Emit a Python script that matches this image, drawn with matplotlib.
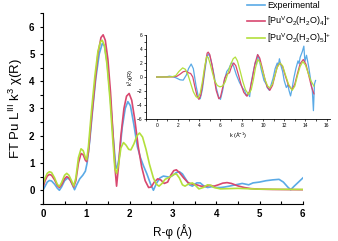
import matplotlib
matplotlib.use('Agg')
import matplotlib.pyplot as plt
from matplotlib.ticker import MultipleLocator

plt.rcParams['font.family'] = ['Liberation Sans', 'DejaVu Sans']
plt.rcParams['mathtext.default'] = 'regular'

c_exp = '#5aaae6'
c_o4 = '#d8476f'
c_o5 = '#b3df3c'

# --- main panel: FT magnitude vs R ---
r_exp = [0.0, 0.05, 0.1, 0.15, 0.2, 0.27, 0.33, 0.38, 0.43, 0.5, 0.57, 0.63, 0.68, 0.73, 0.78, 0.85,
         0.92, 0.98, 1.02, 1.08, 1.15, 1.22, 1.3, 1.37, 1.42, 1.48, 1.55, 1.62, 1.68, 1.71, 1.76,
         1.83, 1.9, 1.96, 2.02, 2.1, 2.18, 2.25, 2.32, 2.4, 2.48, 2.55, 2.62, 2.7, 2.78, 2.85, 2.92,
         3.0, 3.08, 3.15, 3.22, 3.3, 3.38, 3.45, 3.55, 3.63, 3.72, 3.8, 3.9, 4.0, 4.1, 4.2, 4.3,
         4.45, 4.6, 4.75, 4.85, 5.0, 5.15, 5.3, 5.45, 5.55, 5.65, 5.72, 5.8, 5.9, 6.0]
ft_exp = [0.0, 0.15, 0.3, 0.36, 0.34, 0.22, 0.08, 0.0, 0.12, 0.35, 0.45, 0.38, 0.2, 0.02, 0.2, 0.42,
          0.55, 0.7, 1.0, 1.8, 3.0, 4.1, 5.0, 5.38, 5.3, 4.7, 3.5, 2.0, 0.9, 0.8, 1.2,
          2.3, 3.0, 3.25, 3.1, 2.4, 1.6, 1.2, 0.9, 0.6, 0.25, 0.0, 0.25, 0.45, 0.52, 0.5, 0.48,
          0.55, 0.65, 0.68, 0.6, 0.4, 0.2, 0.15, 0.27, 0.27, 0.15, 0.1, 0.13, 0.1, 0.1, 0.12, 0.15,
          0.2, 0.25, 0.2, 0.27, 0.3, 0.35, 0.38, 0.4, 0.3, 0.12, 0.02, 0.15, 0.3, 0.45]

r_o4 = [0.0, 0.05, 0.1, 0.15, 0.2, 0.27, 0.33, 0.38, 0.43, 0.5, 0.55, 0.6, 0.66, 0.71, 0.76, 0.82,
        0.88, 0.93, 0.98, 1.01, 1.05, 1.12, 1.2, 1.27, 1.34, 1.39, 1.44, 1.5, 1.56, 1.62, 1.67,
        1.7, 1.74, 1.8, 1.87, 1.93, 1.99, 2.05, 2.12, 2.2, 2.28, 2.36, 2.44, 2.5, 2.57, 2.65, 2.72,
        2.8, 2.88, 2.95, 3.02, 3.08, 3.15, 3.25, 3.35, 3.45, 3.55, 3.65, 3.75, 3.85, 3.95, 4.05,
        4.15, 4.25, 4.35, 4.5, 4.65, 4.8, 5.0, 5.3, 6.0]
ft_o4 = [0.1, 0.35, 0.52, 0.58, 0.55, 0.38, 0.18, 0.1, 0.2, 0.42, 0.5, 0.45, 0.28, 0.12, 0.35, 1.0,
         1.35, 1.3, 1.1, 1.05, 1.4, 2.6, 3.9, 5.0, 5.6, 5.7, 5.5, 4.8, 3.6, 2.0, 0.7,
         0.15, 0.8, 2.0, 3.0, 3.45, 3.55, 3.3, 2.6, 1.6, 0.85, 0.35, 0.1, 0.12, 0.3, 0.42, 0.38,
         0.25, 0.3, 0.55, 0.72, 0.75, 0.65, 0.45, 0.28, 0.22, 0.2, 0.15, 0.14, 0.18, 0.15, 0.2,
         0.26, 0.28, 0.25, 0.16, 0.1, 0.06, 0.04, 0.03, 0.02]

r_o5 = [0.0, 0.05, 0.1, 0.15, 0.2, 0.27, 0.33, 0.38, 0.43, 0.5, 0.55, 0.6, 0.66, 0.71, 0.76, 0.82,
        0.88, 0.93, 0.98, 1.01, 1.05, 1.12, 1.2, 1.27, 1.33, 1.37, 1.42, 1.48, 1.55, 1.61, 1.66,
        1.7, 1.75, 1.8, 1.86, 1.92, 1.98, 2.03, 2.1, 2.17, 2.23, 2.3, 2.38, 2.46, 2.55, 2.62, 2.68,
        2.75, 2.82, 2.88, 2.95, 3.02, 3.08, 3.15, 3.22, 3.28, 3.35, 3.45, 3.52, 3.6, 3.7, 3.8,
        3.88, 3.95, 4.1, 4.5, 5.0, 6.0]
ft_o5 = [0.2, 0.45, 0.62, 0.68, 0.65, 0.45, 0.22, 0.14, 0.28, 0.55, 0.62, 0.55, 0.35, 0.16, 0.45, 1.2,
         1.52, 1.45, 1.2, 1.12, 1.6, 2.9, 4.2, 5.1, 5.45, 5.5, 5.3, 4.6, 3.3, 1.9, 0.8,
         0.62, 1.0, 1.55, 1.75, 1.65, 1.5, 1.48, 1.7, 2.0, 2.1, 1.95, 1.5, 0.95, 0.45, 0.22, 0.15,
         0.25, 0.4, 0.45, 0.5, 0.58, 0.6, 0.45, 0.2, 0.15, 0.22, 0.27, 0.18, 0.05, 0.1, 0.2,
         0.18, 0.1, 0.05, 0.07, 0.04, 0.03]

# --- inset: k^3 chi(k) ---
k_exp = [0, 0.5, 1.0, 1.2, 1.5, 1.8, 2.2, 2.5, 2.8, 3.0, 3.25, 3.45, 3.7, 3.95, 4.1, 4.3, 4.5,
         4.7, 4.85, 5.0, 5.2, 5.4, 5.6, 5.85, 6.0, 6.2, 6.4, 6.6, 6.8, 7.05, 7.25, 7.5, 7.8, 8.1,
         8.3, 8.4, 8.6, 8.75, 8.9, 9.1, 9.3, 9.4, 9.5, 9.65, 9.85, 10.1, 10.3, 10.4, 10.6, 10.75,
         10.95, 11.15, 11.35, 11.45, 11.55, 11.7, 11.85, 12.0, 12.2, 12.35, 12.45, 12.6, 12.75,
         12.9, 13.1, 13.3, 13.4, 13.5, 13.7, 13.85, 13.95, 14.1, 14.3, 14.5, 14.65, 14.75, 14.85,
         14.95]
chi_exp = [0, 0, 0.05, 0.12, 0.05, -0.1, -0.4, -0.45, 0.3, 1.2, 1.85, 1.2, -1.2, -3.0, -3.1, -1.8, 0.5,
           2.6, 3.3, 3.0, 1.8, 0.3, -1.5, -2.9, -3.2, -2.0, -0.3, 0.8, 1.2, 2.1, 1.5, 0.3, -0.8, -1.6,
           -2.0, -2.6, -2.3, -2.8, -0.8, 0.8, 2.2, 1.8, 3.2, 2.5, 1.0, -0.5, -1.0, -1.5, -1.9, -1.2,
           -0.2, 1.2, 2.0, 1.6, 2.6, 1.6, 0.8, -0.5, -1.5, -1.1, -1.9, -2.7, -1.6,
           -0.2, 1.2, 2.3, 1.9, 2.8, 3.6, 4.4, 2.2, 3.1, 1.5, -0.5, -2.0, -4.8, -1.0,
           -0.5]

k_o4 = [0, 1.0, 1.5, 1.9, 2.2, 2.5, 2.75, 3.0, 3.2, 3.4, 3.6, 3.8, 3.98, 4.15, 4.35, 4.55, 4.75,
        4.85, 5.0, 5.2, 5.4, 5.6, 5.85, 6.0, 6.2, 6.4, 6.6, 6.85, 7.05, 7.25, 7.45, 7.7, 7.95, 8.2,
        8.5, 8.75, 9.0, 9.25, 9.5, 9.7, 9.95, 10.2, 10.4, 10.65, 10.9, 11.15, 11.35, 11.6, 11.85,
        12.1, 12.4, 12.75, 13.0, 13.25, 13.5, 13.8, 14.05, 14.3, 14.55, 14.8]
chi_o4 = [0, 0, 0.02, 0.1, 0.4, 0.75, 0.85, 0.6, 0.5, 0.0, -1.4, -2.7, -3.2, -2.6, -0.8, 1.5, 3.4,
          3.55, 3.2, 1.8, 0.0, -1.9, -3.1, -2.9, -1.6, -0.2, 0.4, 0.6, 1.5, 2.0, 1.6, 0.3, -1.1, -2.2,
          -2.75, -2.0, -0.2, 1.9, 3.2, 2.7, 1.2, -0.4, -1.4, -1.9, -1.2, 0.3, 1.5, 2.0, 1.5,
          0.2, -1.2, -1.8, -1.0, 0.5, 1.9, 2.5, 1.8, 0.3, -1.3, -2.4]

k_o5 = [0, 1.0, 1.5, 1.8, 2.1, 2.45, 2.7, 2.95, 3.2, 3.45, 3.7, 3.9, 4.1, 4.3, 4.5, 4.7, 4.85,
        5.05, 5.25, 5.45, 5.7, 5.95, 6.2, 6.45, 6.7, 6.95, 7.2, 7.4, 7.6, 7.85, 8.1, 8.35, 8.65,
        8.9, 9.1, 9.3, 9.52, 9.75, 10.0, 10.25, 10.45, 10.65, 10.9, 11.1, 11.35, 11.6, 11.85,
        12.1, 12.4, 12.75, 13.0, 13.25, 13.5, 13.75, 14.0, 14.25, 14.5, 14.8]
chi_o5 = [0, 0, 0.05, 0.2, 0.8, 1.3, 1.1, 0.3, -0.9, -2.1, -2.8, -3.0, -2.3, -0.7, 1.3, 2.9, 2.8,
          1.8, 0.6, -0.5, -1.2, -1.4, -1.3, -0.7, 0.5, 1.7, 2.6, 2.85, 2.3, 0.9, -0.6, -1.8, -2.5,
          -1.8, -0.4, 1.3, 2.5, 2.0, 0.7, -0.6, -1.3, -1.55, -1.0, 0.1, 1.4, 2.0, 1.6,
          0.4, -1.0, -1.9, -1.3, 0.2, 1.5, 2.2, 1.7, 0.6, -0.5, -1.3]

labels = ['Experimental', r'[Pu$^{V}$O$_2$(H$_2$O)$_4$]$^{+}$', r'[Pu$^{V}$O$_2$(H$_2$O)$_5$]$^{+}$']

fig = plt.figure(figsize=(3.38, 2.41), dpi=100)
ax = fig.add_axes([0.127, 0.154, 0.769, 0.792])
l1, = ax.plot(r_exp, ft_exp, color=c_exp, lw=1.2)
l2, = ax.plot(r_o4, ft_o4, color=c_o4, lw=1.2)
l3, = ax.plot(r_o5, ft_o5, color=c_o5, lw=1.2)
ax.set_xlim(0, 6)
ax.set_ylim(-0.5, 6.5)
ax.xaxis.set_major_locator(MultipleLocator(1))
ax.xaxis.set_minor_locator(MultipleLocator(0.5))
ax.yaxis.set_major_locator(MultipleLocator(1))
ax.yaxis.set_minor_locator(MultipleLocator(0.5))
ax.set_yticks(range(0, 7))
for s in ['top', 'right']:
    ax.spines[s].set_visible(False)
ax.tick_params(axis='both', which='both', labelsize=7, length=2.5, width=0.8)
ax.tick_params(axis='x', which='both', direction='in')
ax.tick_params(axis='y', which='both', direction='out')
for t in ax.get_xticklabels() + ax.get_yticklabels():
    t.set_fontweight('bold')
ax.set_xlabel('R-φ (Å)', fontsize=8.5, labelpad=4)
ax.set_ylabel(r'FT Pu L$^{III}$ k$^3$ χ(R)', fontsize=9.5, labelpad=3)

fig.legend([l1, l2, l3], labels, loc='upper left', bbox_to_anchor=(0.728, 1.0),
           frameon=False, fontsize=6.5, handlelength=2.0, handletextpad=0.25,
           labelspacing=0.45, borderaxespad=0.0, borderpad=0.1)

ins = fig.add_axes([0.432, 0.506, 0.544, 0.349])
ins.plot(k_exp, chi_exp, color=c_exp, lw=0.9)
ins.plot(k_o4, chi_o4, color=c_o4, lw=0.9)
ins.plot(k_o5, chi_o5, color=c_o5, lw=0.9)
ins.set_xlim(-1, 16.3)
ins.set_ylim(-6, 6)
ins.xaxis.set_major_locator(MultipleLocator(2))
ins.xaxis.set_minor_locator(MultipleLocator(1))
ins.yaxis.set_major_locator(MultipleLocator(2))
ins.yaxis.set_minor_locator(MultipleLocator(1))
ins.set_xticks(range(0, 17, 2))
for s in ['top', 'right']:
    ins.spines[s].set_visible(False)
ins.tick_params(axis='both', which='both', labelsize=3.5, length=1.5, width=0.5, pad=1)
for s in ['left', 'bottom']:
    ins.spines[s].set_linewidth(0.6)
ins.set_xlabel(r'k (Å$^{-1}$)', fontsize=4, labelpad=2)
ins.set_ylabel(r'k$^3$χ(R)', fontsize=4, labelpad=1)
ins.patch.set_alpha(0)

fig.savefig('out.png', dpi=100)
